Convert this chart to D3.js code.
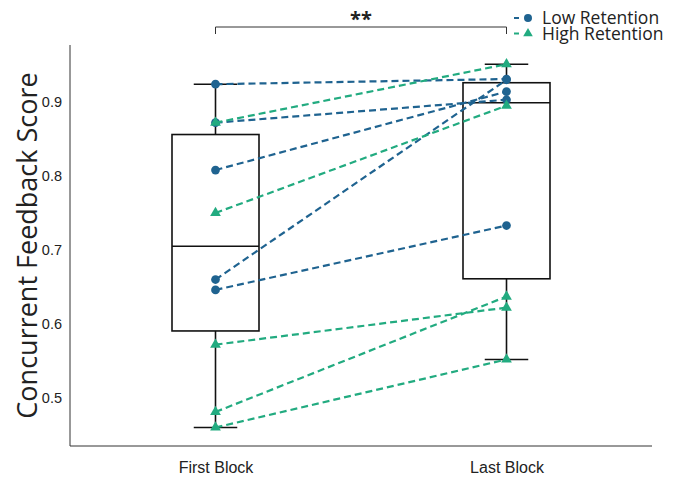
<!DOCTYPE html>
<html>
<head>
<meta charset="utf-8">
<script src="https://cdn.jsdelivr.net/npm/d3@7"></script>
<style>
  body { margin: 0; background: #fff; }
  svg { font-family: "Open Sans", sans-serif; }
</style>
</head>
<body>
<svg id="chart" width="673" height="477"></svg>
<script>
// blocks on the x axis
const blocks = ['First Block', 'Last Block'];
const yTicks = [0.5, 0.6, 0.7, 0.8, 0.9];

// paired scores per participant, [first, last]
const lowFirst = [0.924, 0.872, 0.808, 0.660, 0.646];
const lowLast = [0.931, 0.903, 0.914, 0.930, 0.733];
const highFirst = [0.872, 0.750, 0.572, 0.481, 0.460];
const highLast = [0.951, 0.895, 0.622, 0.637, 0.552];

const groups = [
  { name: 'Low Retention', first: lowFirst, last: lowLast, color: '#1f6390', shape: d3.symbolCircle },
  { name: 'High Retention', first: highFirst, last: highLast, color: '#22ab80', shape: d3.symbolTriangle }
];

const svg = d3.select('#chart');

const x = d3.scalePoint().domain(blocks).range([70, 652]).padding(0.5);
const y = d3.scaleLinear().domain([0.435, 0.977]).range([446, 45]);

// axes
const yAxis = d3.axisLeft(y).tickValues(yTicks).tickSize(0).tickPadding(8).tickFormat(d3.format('.1f'));
const yg = svg.append('g').attr('transform', 'translate(70,0)').call(yAxis);
yg.select('.domain').attr('stroke', '#333').attr('d', 'M0,45V446');
yg.selectAll('text').attr('font-size', 14.5).attr('fill', '#222');

const xAxis = d3.axisBottom(x).tickSize(0).tickPadding(16);
const xg = svg.append('g').attr('transform', 'translate(0,446)').call(xAxis);
xg.select('.domain').attr('stroke', '#333').attr('d', 'M70,0H652');
xg.selectAll('text').attr('font-size', 16).attr('fill', '#222');

svg.append('text')
  .attr('transform', `translate(37,${(45 + 446) / 2}) rotate(-90)`)
  .attr('text-anchor', 'middle')
  .attr('font-size', 27)
  .attr('fill', '#222')
  .text('Concurrent Feedback Score');

// box plots
const boxW = 87;
blocks.forEach((b, i) => {
  const vals = groups.flatMap(g => i === 0 ? g.first : g.last).sort(d3.ascending);
  const q1 = d3.quantile(vals, 0.25), med = d3.quantile(vals, 0.5), q3 = d3.quantile(vals, 0.75);
  const lo = d3.min(vals), hi = d3.max(vals);
  const cx = x(b);
  const g = svg.append('g').attr('stroke', '#111').attr('stroke-width', 1.6).attr('fill', 'none');
  g.append('line').attr('x1', cx).attr('x2', cx).attr('y1', y(hi)).attr('y2', y(q3));
  g.append('line').attr('x1', cx).attr('x2', cx).attr('y1', y(q1)).attr('y2', y(lo));
  g.append('line').attr('x1', cx - boxW / 4).attr('x2', cx + boxW / 4).attr('y1', y(hi)).attr('y2', y(hi));
  g.append('line').attr('x1', cx - boxW / 4).attr('x2', cx + boxW / 4).attr('y1', y(lo)).attr('y2', y(lo));
  g.append('rect').attr('x', cx - boxW / 2).attr('width', boxW).attr('y', y(q3)).attr('height', y(q1) - y(q3));
  g.append('line').attr('x1', cx - boxW / 2).attr('x2', cx + boxW / 2).attr('y1', y(med)).attr('y2', y(med));
});

// paired lines and markers
groups.forEach(grp => {
  const pairs = grp.first.map((v, i) => [v, grp.last[i]]);
  svg.append('g').selectAll('line').data(pairs).join('line')
    .attr('x1', x(blocks[0])).attr('x2', x(blocks[1]))
    .attr('y1', d => y(d[0])).attr('y2', d => y(d[1]))
    .attr('stroke', grp.color).attr('stroke-width', 2.2)
    .attr('stroke-dasharray', '7,4');
  const pts = pairs.flatMap(d => [[blocks[0], d[0]], [blocks[1], d[1]]]);
  svg.append('g').selectAll('path').data(pts).join('path')
    .attr('d', d3.symbol().type(grp.shape).size(grp.shape === d3.symbolCircle ? 60 : 50))
    .attr('transform', d => `translate(${x(d[0])},${y(d[1])})`)
    .attr('fill', grp.color);
});

// significance bracket
const by = 27;
svg.append('path')
  .attr('d', `M${x(blocks[0])},${by + 7}V${by}H${x(blocks[1])}V${by + 7}`)
  .attr('fill', 'none').attr('stroke', '#333').attr('stroke-width', 1);
svg.append('text')
  .attr('x', (x(blocks[0]) + x(blocks[1])) / 2).attr('y', 26)
  .attr('text-anchor', 'middle').attr('font-size', 20).attr('font-weight', 'bold').attr('fill', '#222')
  .text('**');

// legend
const leg = svg.append('g').attr('transform', 'translate(514,18)');
groups.forEach((grp, i) => {
  const row = leg.append('g').attr('transform', `translate(0,${i * 15.5})`);
  row.append('line').attr('x1', 0).attr('x2', 5).attr('y1', 0).attr('y2', 0)
    .attr('stroke', grp.color).attr('stroke-width', 2);
  row.append('path').attr('d', d3.symbol().type(grp.shape).size(grp.shape === d3.symbolCircle ? 50 : 40))
    .attr('transform', 'translate(14,0)').attr('fill', grp.color);
  row.append('text').attr('x', 28).attr('y', 6).attr('font-size', 17.5).attr('fill', '#222').text(grp.name);
});
</script>
</body>
</html>
